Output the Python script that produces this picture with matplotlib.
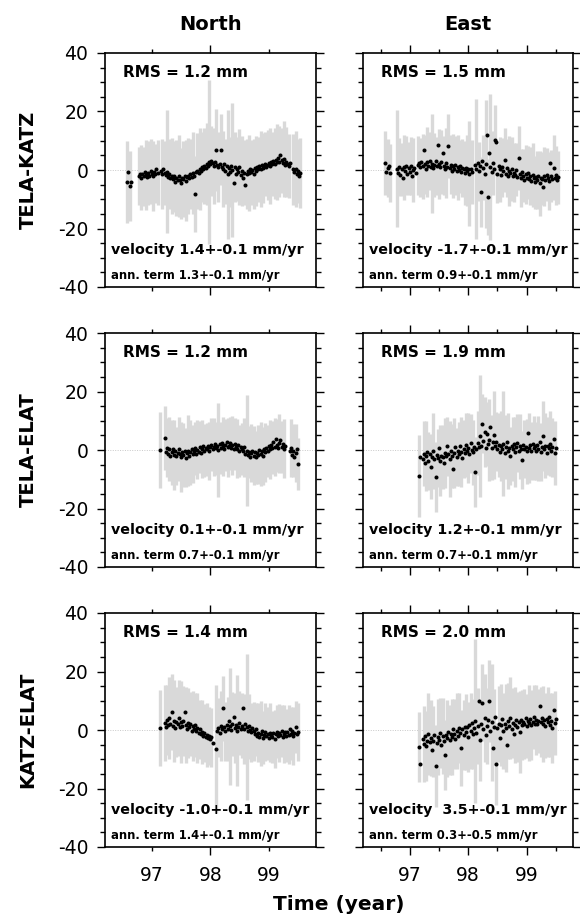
import numpy as np
import matplotlib
matplotlib.use("Agg")
import matplotlib.pyplot as plt
from matplotlib.ticker import FixedLocator, FixedFormatter, NullFormatter

nan = np.nan

# sampling step of the plotted series (years); error bars drawn on every 2nd sample
STEP = 0.02

baselines = ["TELA-KATZ", "TELA-ELAT", "KATZ-ELAT"]
components = ["North", "East"]

rms_text = ["RMS = 1.2 mm", "RMS = 1.5 mm",
            "RMS = 1.2 mm", "RMS = 1.9 mm",
            "RMS = 1.4 mm", "RMS = 2.0 mm"]
vel_text = ["velocity 1.4+-0.1 mm/yr", "velocity -1.7+-0.1 mm/yr",
            "velocity 0.1+-0.1 mm/yr", "velocity 1.2+-0.1 mm/yr",
            "velocity -1.0+-0.1 mm/yr", "velocity  3.5+-0.1 mm/yr"]
ann_text = ["ann. term 1.3+-0.1 mm/yr", "ann. term 0.9+-0.1 mm/yr",
            "ann. term 0.7+-0.1 mm/yr", "ann. term 0.7+-0.1 mm/yr",
            "ann. term 1.4+-0.1 mm/yr", "ann. term 0.3+-0.5 mm/yr"]

# ---- TELA-KATZ north (mm) ----
tk_n_start = 96.58
tk_n_val = [
    -4.0, -0.6, -5.5, -4.2, nan, nan, nan, nan, nan, nan,     # 96.58
    -2.0, -1.2, -2.6, -1.5, -2.2, -0.8, -1.8, -2.5, -1.0, -1.9,  # 96.78
    -0.5, -1.4, -2.1, -0.7, -1.2, 0.2, -0.9, nan, nan, -0.4,  # 96.98
    -1.3, 0.3, -1.0, -1.8, -0.6, -2.4, -1.5, -2.9, -1.9, -3.2,  # 97.18
    -2.2, -4.0, -2.7, -3.5, -2.1, -3.3, -4.6, -2.6, -3.1, -1.9,  # 97.38
    -3.6, -2.4, -2.0, -2.9, -1.5, -2.3, -1.0, -1.9, -8.2, -0.8,  # 97.58
    -0.2, -1.1, 0.4, -0.3, 1.0, 0.2, 1.5, 0.8, 2.0, 1.2,      # 97.78
    2.8, 1.9, 3.2, 2.3, 1.5, 2.6, 6.8, 1.8, 0.9, 2.2,         # 97.98
    7.0, 1.1, 0.3, 1.9, -0.5, 1.2, -1.5, 0.6, -0.8, 1.4,      # 98.18
    0.0, -4.5, 0.9, -1.2, 0.3, -0.7, 1.0, -1.8, -0.4, -2.6,   # 98.38
    -0.9, -5.0, -1.5, -0.2, -1.1, 0.4, -0.8, 0.1, -1.3, 0.6,  # 98.58
    -0.4, 0.9, 0.2, 1.2, 0.5, 1.6, 0.8, 1.3, 2.0, 1.0,        # 98.78
    1.8, 2.4, 1.5, 2.7, 2.0, 3.1, 2.2, 3.4, 2.6, 4.0,         # 98.98
    2.9, 5.0, 3.3, 2.5, 3.6, 1.8, 2.7, 2.0, 1.4, 2.3,         # 99.18
    nan, nan, 0.2, -0.8, 0.5, -1.4, -0.3, -1.9, -0.9,         # 99.38
]
tk_n_err = [
    14, 12, 0, 0, 0,
    10, 11, 10, 12, 11,
    11, 12, 10, 11, 0,
    12, 11, 21, 12, 13,
    12, 13, 14, 12, 13,
    14, 13, 12, 14, 13,
    13, 14, 12, 13, 14,
    28, 12, 13, 14, 12,
    12, 13, 11, 22, 12,
    23, 12, 11, 13, 12,
    11, 12, 13, 11, 12,
    12, 11, 13, 12, 11,
    12, 13, 11, 12, 13,
    12, 11, 13, 12, 11,
    0, 12, 13, 11, 12,
]

# ---- TELA-KATZ east ----
tk_e_start = 96.58
tk_e_val = [
    2.5, -0.8, 0.6, 1.2, -1.0, nan, nan, nan, nan, nan,       # 96.58
    0.4, -0.9, 1.1, -1.6, 0.2, -2.8, 0.9, -0.4, 1.5, -1.2,    # 96.78
    0.6, -0.7, 1.3, -2.0, 0.1, 0.8, -1.1, nan, 1.6, 2.4,      # 96.98
    0.9, 2.8, 1.2, 7.0, 1.9, 0.5, 2.6, 1.4, 3.1, 1.0,         # 97.18
    2.2, 0.7, 1.8, 3.0, 1.3, 8.5, 2.0, 0.9, 2.7, 5.7,         # 97.38
    1.5, 0.4, 2.3, 1.1, 8.2, 0.6, 1.8, -0.5, 1.3, 0.2,        # 97.58
    1.6, -0.3, 0.9, 0.1, 1.2, -0.8, 0.7, 0.3, -1.0, 0.8,      # 97.78
    -0.2, 0.5, -1.3, 0.4, -0.6, nan, nan, 1.8, 0.3, 2.5,      # 97.98
    -0.5, 1.4, -7.4, 3.2, 0.8, -1.5, 2.1, 12.0, -9.1, 5.7,    # 98.18
    1.0, -0.8, 2.4, 0.3, 10.3, 9.7, -1.2, 1.5, 0.2, -1.8,     # 98.38
    0.9, -0.5, 3.4, -1.4, 0.6, -2.0, -0.3, -1.1, 0.4, -2.2,   # 98.58
    -0.9, -1.6, 0.1, -2.4, 4.0, -1.3, -2.8, -0.7, -1.9, -3.3,  # 98.78
    -1.5, -2.6, -0.9, -3.1, -2.0, -3.6, -1.7, -2.9, -4.2, -2.3,  # 98.98
    -3.4, -1.9, -4.6, -2.7, -3.0, -5.7, -2.2, -3.5, -1.6, -2.9,  # 99.18
    -3.8, 2.5, -2.1, -3.2, 0.8, -2.6, -1.8, -3.4, -2.5,       # 99.38
]
tk_e_err = [
    11, 10, 10, 0, 0,
    20, 10, 9, 11, 10,
    9, 10, 11, 0, 10,
    10, 11, 10, 12, 10,
    17, 11, 10, 12, 11,
    10, 12, 11, 10, 11,
    10, 11, 9, 10, 11,
    12, 18, 11, 0, 24,
    10, 12, 11, 22, 13,
    25, 11, 12, 10, 11,
    10, 11, 10, 12, 11,
    10, 9, 11, 10, 9,
    10, 9, 10, 11, 9,
    10, 11, 9, 10, 9,
    10, 9, 11, 10, 9,
]

# ---- TELA-ELAT north ----
te_n_start = 97.14
te_n_val = [
    0.0, nan, nan, nan, 4.2, -0.6, 0.8, -1.4, 0.3, -1.9,      # 97.14
    -0.8, 0.5, -1.6, -0.3, -2.1, -0.9, 0.4, -1.5, -2.4, -0.7,  # 97.34
    -1.8, -0.4, -2.6, -1.1, -0.2, -1.9, -0.8, 0.3, -1.4, -0.5,  # 97.54
    0.6, -1.2, 0.1, -0.6, 1.0, -0.9, 0.4, 1.3, -0.2, 0.8,     # 97.74
    0.2, 1.5, -0.4, 0.9, 1.8, 0.3, 1.1, 2.2, 0.6, 1.4,        # 97.94
    0.0, 1.9, 0.7, 2.5, 1.2, 0.4, 1.7, 2.8, 0.9, 1.5,         # 98.14
    2.3, 0.8, 1.6, 0.2, 2.0, 1.1, 0.5, 1.8, -0.3, 1.0,        # 98.34
    0.4, -0.5, 0.9, -1.3, -0.2, -1.8, -0.7, -2.3, -1.1, -0.4,  # 98.54
    -1.9, -0.6, -2.5, -1.0, -1.6, 0.1, -1.3, -0.5, -2.0, 0.3,  # 98.74
    -0.8, 0.6, -0.3, 1.2, 0.2, 1.7, 0.8, 2.6, 1.1, 3.9,       # 98.94
    1.6, 0.7, 2.3, 3.4, 1.0, 2.0, 0.5, 1.4, nan, nan,         # 99.14
    nan, -0.5, 0.6, -1.8, -0.2, -2.3, -1.0, 0.4, -4.8,        # 99.34
]
te_n_err = [
    13, 0, 11, 10, 11,
    11, 12, 10, 11, 12,
    11, 10, 12, 11, 10,
    9, 10, 9, 10, 9,
    9, 10, 9, 10, 9,
    16, 9, 10, 9, 10,
    9, 10, 9, 10, 9,
    9, 10, 19, 9, 10,
    10, 9, 10, 11, 10,
    10, 9, 10, 9, 10,
    9, 10, 9, 10, 0,
    0, 10, 9, 10, 9,
]

# ---- TELA-ELAT east ----
te_e_start = 97.16
te_e_val = [
    -8.9, -2.3, nan, -3.0, -1.2, -4.5, -2.0, -0.6, -3.8, -1.5,  # 97.16
    -5.7, -2.4, -0.3, -3.1, -9.1, -1.6, -2.7, 0.8, -3.6, -1.9,  # 97.36
    -2.5, -4.4, -0.9, -2.2, 1.2, -1.4, -3.0, -0.5, -2.0, -6.5,  # 97.56
    -1.1, 0.9, -2.4, -0.2, -1.3, 1.5, -0.7, -2.9, 0.4, -1.0,  # 97.76
    1.8, -0.4, 0.6, -1.5, 2.3, 0.1, -0.8, 1.1, -7.4, 0.5,     # 97.96
    2.4, 0.9, 4.8, 1.3, 9.0, 3.0, 6.2, 0.7, 5.4, 1.9,         # 98.16
    3.5, 7.7, 0.8, 2.6, 5.1, 1.2, 2.9, 0.3, 1.7, -0.6,        # 98.36
    1.4, 0.2, 2.2, -0.9, 1.0, 2.8, -0.3, 0.7, -2.0, 1.5,      # 98.56
    0.4, 1.9, -0.8, 0.9, 2.4, -0.2, 1.2, 0.5, -3.4, 1.7,      # 98.76
    0.3, 1.0, -0.5, 5.9, 0.8, 1.6, -0.4, 2.1, 0.6, 1.3,       # 98.96
    -0.3, 1.8, 0.5, 2.6, -0.6, 1.1, 4.8, 0.2, 1.5, -1.0,      # 99.16
    1.4, 0.6, 2.2, -0.4, 0.9, 3.7, -1.1, 0.8,                 # 99.36
]
te_e_err = [
    14, 0, 11, 12, 10,
    11, 13, 12, 10, 12,
    11, 12, 10, 13, 11,
    12, 10, 11, 12, 10,
    11, 12, 10, 11, 12,
    11, 21, 10, 12, 11,
    14, 11, 15, 10, 11,
    12, 18, 11, 13, 10,
    11, 12, 10, 11, 10,
    10, 11, 12, 10, 11,
    10, 11, 10, 12, 11,
    10, 11, 10, 11,
]

# ---- KATZ-ELAT north ----
ke_n_start = 97.14
ke_n_val = [
    0.6, nan, nan, nan, 2.5, 1.1, 3.4, 1.8, 4.0, 2.2,         # 97.14
    6.3, 1.5, 3.0, 0.7, 2.6, 1.9, 4.2, 0.9, 2.8, 1.4,         # 97.34
    3.1, 6.0, 1.7, 0.4, 2.4, 1.0, 2.0, -0.2, 1.3, 0.5,        # 97.54
    1.6, -0.4, 0.8, -0.9, 0.2, -1.5, -0.6, -1.9, -1.1, -2.4,  # 97.74
    -1.6, -2.8, -2.1, -3.2, -2.5, -4.6, nan, nan, -6.5, -0.3,  # 97.94
    0.8, -0.9, 1.4, 0.2, 7.4, 0.9, -0.5, 1.7, 0.4, 3.1,       # 98.14
    1.2, 0.1, 2.0, 4.6, 0.6, 1.8, -0.3, 1.1, 2.4, 0.5,        # 98.34
    1.5, 7.4, 0.3, 2.0, 1.0, -0.4, 1.2, 0.0, -0.8, 0.6,       # 98.54
    -0.5, -1.4, 0.2, -1.9, -0.9, -2.3, -1.2, -0.4, -2.6, -1.6,  # 98.74
    -0.7, -2.0, -1.3, -2.8, -0.9, -1.7, -2.4, -1.1, -3.0, -1.5,  # 98.94
    -0.6, -2.2, -1.0, -1.8, -0.3, -2.5, -1.4, -0.6, -1.9, -0.8,  # 99.14
    -1.6, 0.2, -1.2, -0.5, -2.1, -0.9, 1.0, -1.4, -0.7,       # 99.34
]
ke_n_err = [
    13, 0, 13, 12, 14,
    13, 14, 12, 13, 14,
    12, 13, 12, 11, 12,
    11, 12, 10, 11, 10,
    11, 10, 10, 0, 22,
    10, 12, 11, 10, 11,
    20, 11, 12, 19, 11,
    11, 12, 25, 11, 10,
    10, 9, 10, 11, 9,
    10, 9, 10, 9, 10,
    9, 10, 9, 10, 9,
    10, 9, 10, 9, 10,
]

# ---- KATZ-ELAT east ----
ke_e_start = 97.16
ke_e_val = [
    -5.7, -11.6, nan, -3.2, -4.8, -2.1, -5.5, -3.6, -1.4, -4.2,  # 97.16
    -2.7, -6.8, -3.9, -1.8, -12.2, -4.4, -2.5, -3.3, -0.9, -5.0,  # 97.36
    -2.2, -3.8, -8.5, -1.6, -2.9, -0.7, -3.5, -1.2, -2.4, 0.3,  # 97.56
    -1.5, -3.0, -0.4, -2.2, 0.8, -1.0, -6.2, 0.2, -1.7, 1.1,  # 97.76
    -0.6, 0.9, -2.3, 1.6, -0.2, 2.4, -1.4, 0.7, 3.0, -0.9,    # 97.96
    1.3, 10.0, -3.5, 2.0, 9.4, 0.4, 4.2, -1.8, 1.5, 3.3,      # 98.16
    9.9, -0.5, 2.6, -6.3, 1.0, 4.5, -11.6, 0.8, 2.1, -2.7,    # 98.36
    1.7, 3.6, -0.4, 2.2, 0.6, -5.0, 3.1, 1.2, 4.0, 0.3,       # 98.56
    2.4, -1.2, 1.8, 3.5, 0.9, 2.7, -0.6, 3.3, 1.6, 2.9,       # 98.76
    2.0, 4.1, 1.3, 3.0, 2.4, 3.8, 1.7, 2.6, 4.4, 2.2,         # 98.96
    3.5, 1.9, 3.1, 8.2, 2.7, 4.0, 2.2, 3.4, 1.5, 3.9,         # 99.16
    2.6, 4.3, 1.8, 3.2, 0.8, 7.0, 2.5, 3.6,                   # 99.36
]
ke_e_err = [
    12, 0, 13, 12, 14,
    13, 12, 14, 13, 12,
    13, 12, 13, 12, 13,
    12, 13, 12, 13, 12,
    13, 12, 13, 12, 28,
    13, 14, 13, 15, 13,
    14, 20, 13, 14, 13,
    14, 13, 15, 13, 14,
    12, 13, 12, 14, 12,
    12, 11, 13, 12, 11,
    12, 11, 12, 13, 11,
    12, 11, 12, 11,
]

series = [
    (tk_n_start, tk_n_val, tk_n_err), (tk_e_start, tk_e_val, tk_e_err),
    (te_n_start, te_n_val, te_n_err), (te_e_start, te_e_val, te_e_err),
    (ke_n_start, ke_n_val, ke_n_err), (ke_e_start, ke_e_val, ke_e_err),
]

plt.rcParams['font.family'] = ['DejaVu Sans']
plt.rcParams['axes.unicode_minus'] = False

W, H = 580, 924
fig = plt.figure(figsize=(W / 100, H / 100), dpi=100)

col_left = [105 / W, 363 / W]
col_width = 210.5 / W
row_bottom = [1 - 287 / H, 1 - 567 / H, 1 - 847 / H]
row_height = 234 / H

BAND = '#d9d9d9'


def draw_panel(ax, t0, vals, errs):
    v = np.array(vals, dtype=float)
    e = np.array(errs, dtype=float)
    t = t0 + STEP * np.arange(len(v))
    te, ve = t[::2], v[::2]
    ok = ~np.isnan(ve)
    ax.vlines(te[ok], ve[ok] - e[ok], ve[ok] + e[ok], color=BAND, lw=2.4, zorder=1)
    ok = ~np.isnan(v)
    ax.plot(t[ok], v[ok], 'o', ms=2.9, mec='none', color='black', zorder=3)


for r in range(3):
    for c in range(2):
        k = 2 * r + c
        ax = fig.add_axes([col_left[c], row_bottom[r], col_width, row_height])
        ax.axhline(0, color='#c8c8c8', lw=0.7, ls=(0, (1, 1.5)), zorder=0)
        draw_panel(ax, *series[k])
        ax.set_xlim(96.2, 99.8)
        ax.set_ylim(-40, 40)

        for s in ax.spines.values():
            s.set_linewidth(1.2)

        # y ticks
        ax.yaxis.set_major_locator(FixedLocator([-40, -20, 0, 20, 40]))
        ax.yaxis.set_minor_locator(FixedLocator(np.arange(-35, 40, 5)))
        ax.tick_params(axis='y', which='both', direction='out', left=True, right=True,
                       width=1.0, labelsize=13.5, pad=6)
        ax.tick_params(axis='y', which='major', length=6)
        ax.tick_params(axis='y', which='minor', length=3.5)
        if c == 1:
            ax.tick_params(axis='y', which='both', labelleft=False)

        # x ticks
        if c == 0:
            ax.xaxis.set_major_locator(FixedLocator([98]))
            ax.xaxis.set_minor_locator(FixedLocator([97, 99]))
            ax.xaxis.set_major_formatter(FixedFormatter(['98']))
            ax.xaxis.set_minor_formatter(FixedFormatter(['97', '99']))
        else:
            ax.xaxis.set_major_locator(FixedLocator([97, 98, 99]))
            ax.xaxis.set_minor_locator(FixedLocator([96.5, 97.5, 98.5, 99.5]))
            ax.xaxis.set_major_formatter(FixedFormatter(['97', '98', '99']))
            ax.xaxis.set_minor_formatter(NullFormatter())
        ax.tick_params(axis='x', which='both', direction='out', top=True, bottom=True,
                       width=1.0, labelsize=13.5)
        ax.tick_params(axis='x', which='major', length=5.5, pad=8)
        ax.tick_params(axis='x', which='minor', length=3, pad=10.5)
        if r < 2:
            ax.tick_params(axis='x', which='both', labelbottom=False)

        ax.text(96.51, 33.5, rms_text[k], fontsize=11, fontweight='bold', va='center')
        ax.text(96.30, -27.4, vel_text[k], fontsize=10.3, fontweight='bold', va='center')
        ax.text(96.30, -35.9, ann_text[k], fontsize=8.4, fontweight='bold', va='center')

for c, name in enumerate(components):
    fig.text(col_left[c] + col_width / 2, 1 - 24 / H, name, fontsize=14,
             fontweight='bold', ha='center', va='center')

for r, name in enumerate(baselines):
    fig.text(28 / W, row_bottom[r] + row_height / 2, name, fontsize=14,
             fontweight='bold', rotation=90, ha='center', va='center')

fig.text(339 / W, 1 - 905 / H, "Time (year)", fontsize=14.5, fontweight='bold',
         ha='center', va='center')

fig.savefig("out.png", dpi=100)
